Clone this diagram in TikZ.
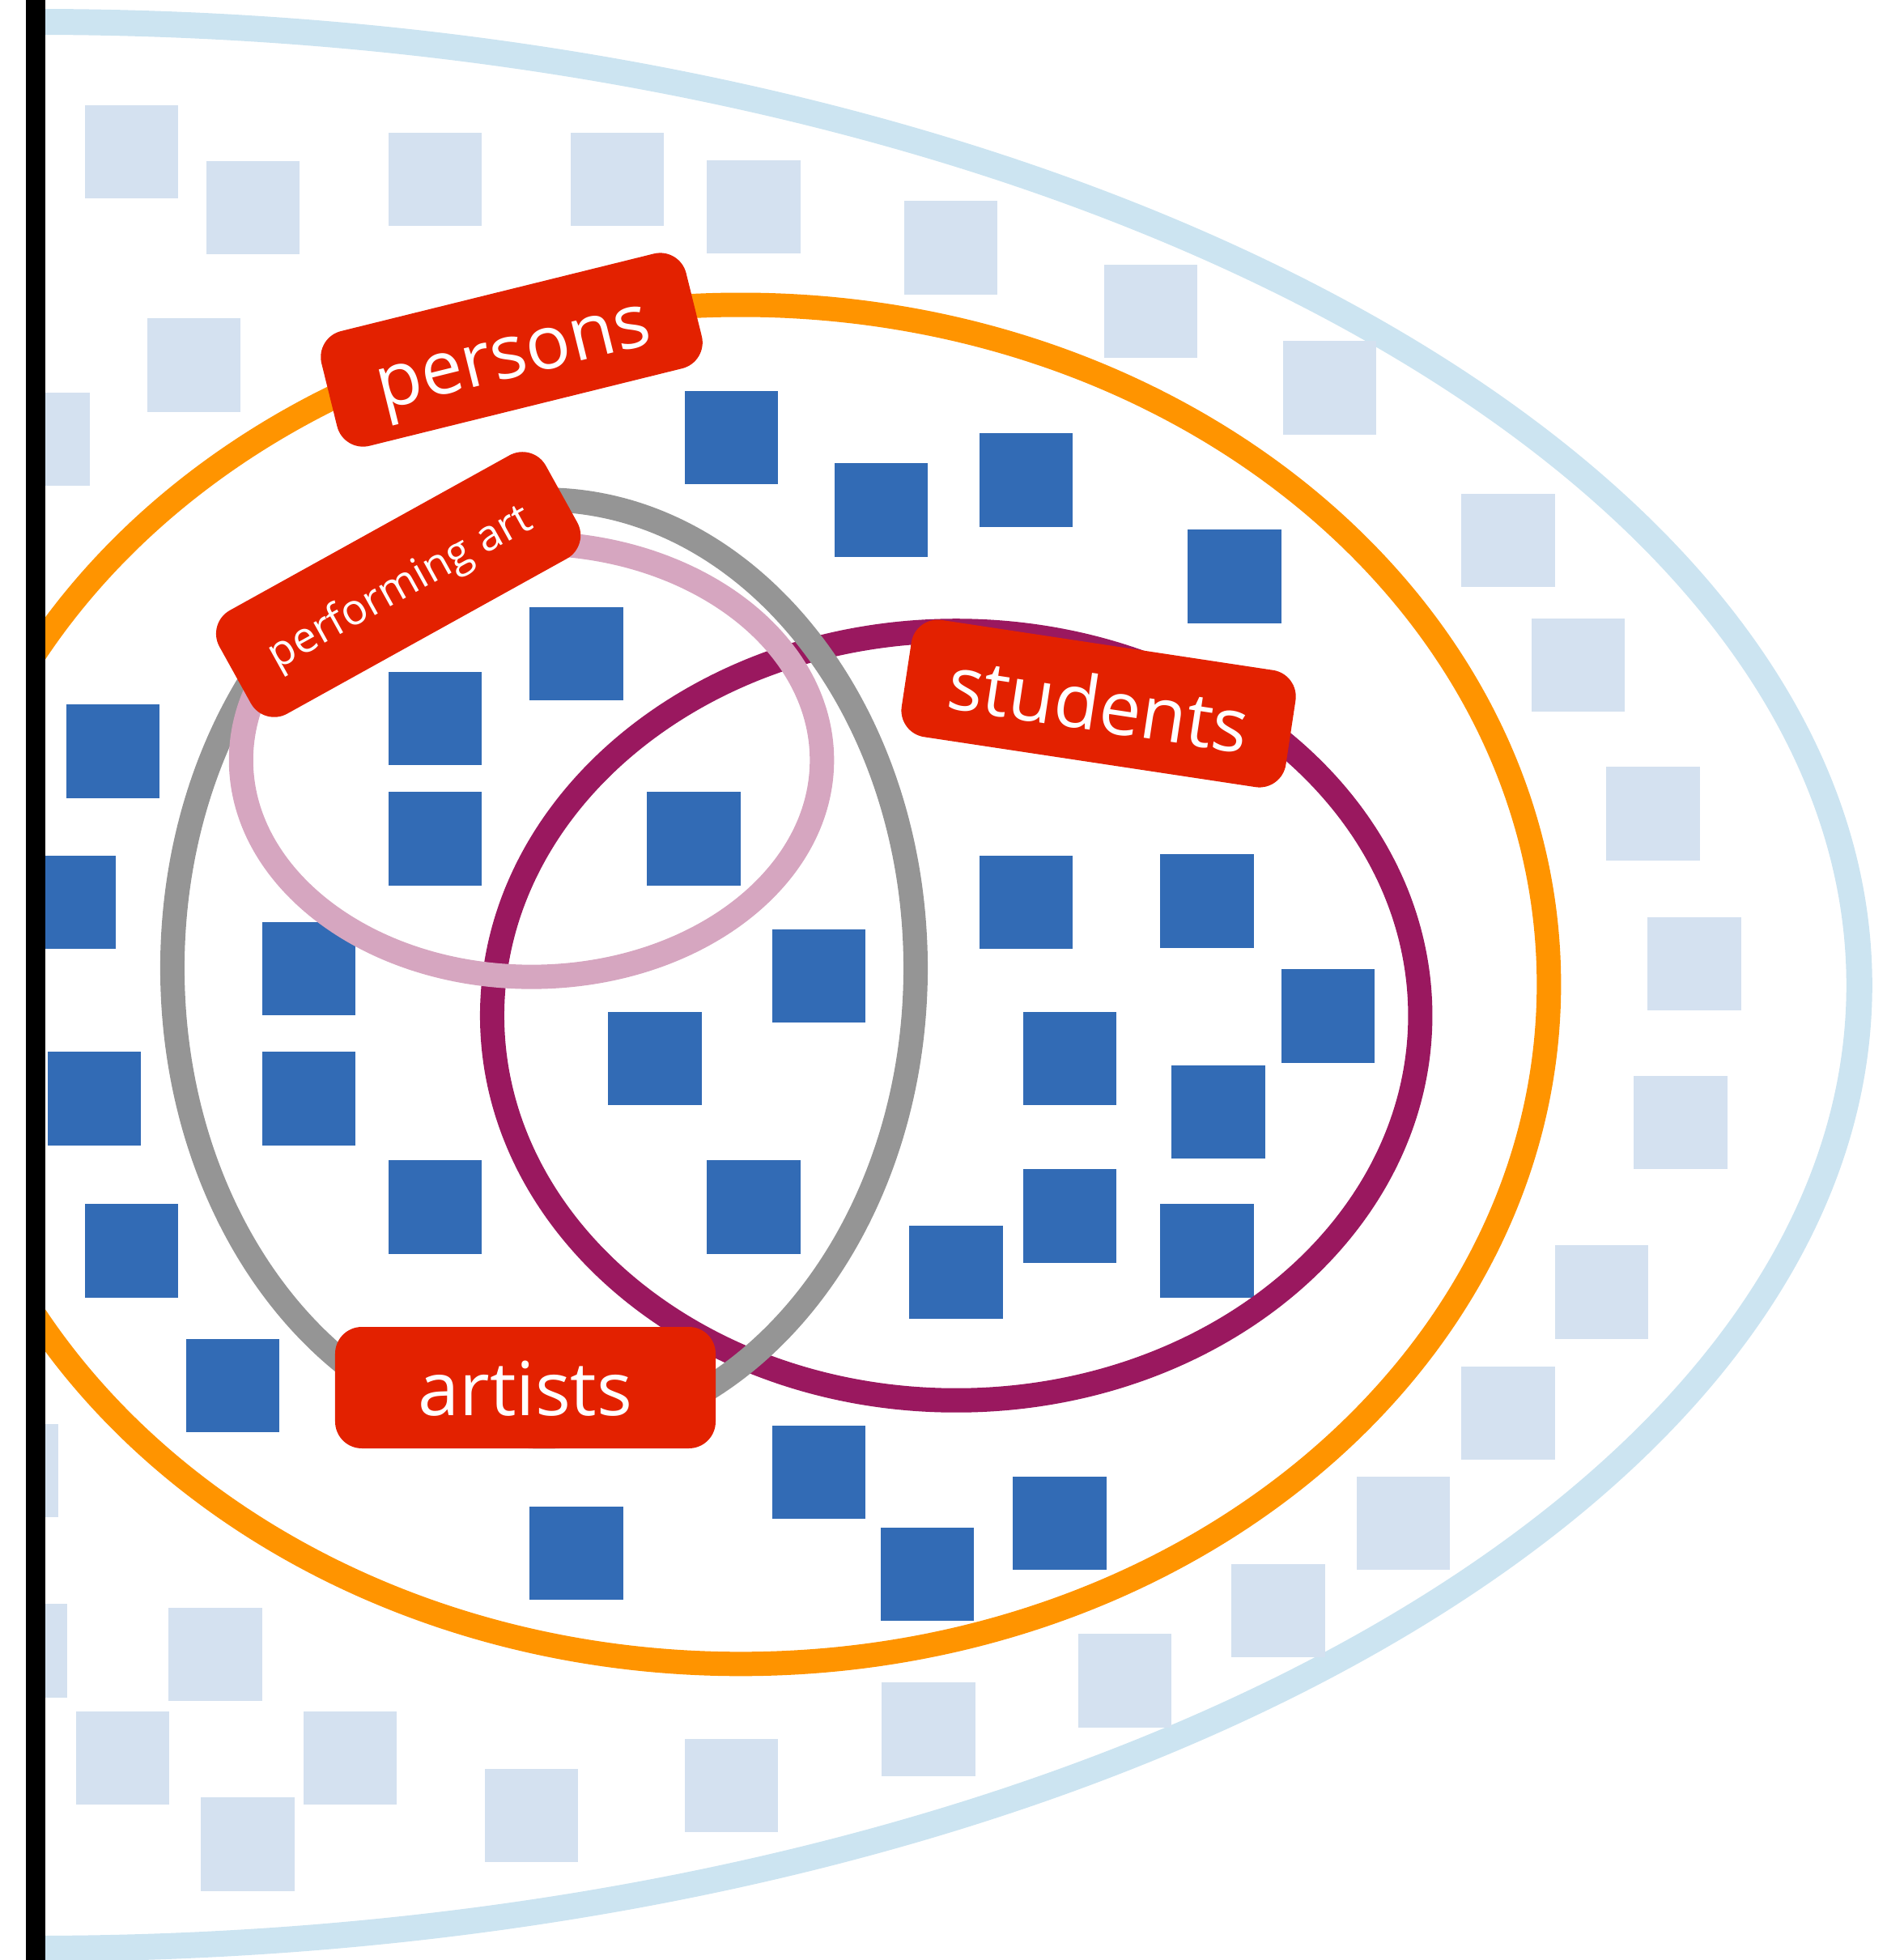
\documentclass[tikz,border=0pt]{standalone}
\usepackage{fontspec}
\setmainfont{Open Sans}
\definecolor{lblue}{HTML}{CCE4F1}
\definecolor{lsq}{HTML}{D4E1F0}
\definecolor{dsq}{HTML}{326BB5}
\definecolor{orng}{HTML}{FF9400}
\definecolor{grayring}{HTML}{959595}
\definecolor{pinkring}{HTML}{D6A6C0}
\definecolor{purpring}{HTML}{9A185F}
\definecolor{lblred}{HTML}{E32100}
\begin{document}
\begin{tikzpicture}[x=1.543pt,y=-1.543pt,
  ring/.style={line width=30pt},
  lbl/.style={fill=lblred,text=white,rounded corners=33pt,inner sep=0pt,
    minimum height=146pt,text height=68pt,text depth=0pt,
    font=\fontsize{92}{100}\selectfont}]
\useasboundingbox (0,0) rectangle (1523.66,1569);
\begin{scope}
\clip (28.5,0) rectangle (1523.66,1569);
\draw[ring,lblue,line width=32pt] (28.5,788.7) ellipse [x radius=1460,y radius=771.2];
\foreach \x/\y in {68/84,165/129,311/106,457/106,566/128,724/161,884/212,1027/273,
  118/255,-3/314,1170/395,1226/495,1286/614,1319/734,1308/861,1245/997,1170/1094,
  1086/1182,986/1252,863/1308,706/1347,548/1392,388/1416,243/1370,161/1439,61/1370,
  135/1287,-21/1284,-28/1140}
  \fill[lsq] (\x,\y) rectangle ++(74.7,74.7);
\draw[ring,orng] (593,788) ellipse [x radius=647,y radius=544];
\foreach \x/\y in {548/313,668/371,784/347,951/424,424/486,311/538,53/564,311/634,
  518/634,18/685,210/738,618/744,784/685,929/684,1026/776,38/842,210/842,487/810,
  819/810,938/853,311/929,566/929,68/964,819/936,929/964,728/981,149/1072,618/1141,
  811/1182,705/1223,424/1206}
  \fill[dsq] (\x,\y) rectangle ++(74.7,74.7);
\draw[ring,purpring] (765.5,813) ellipse [x radius=371.5,y radius=308];
\draw[ring,grayring] (435.5,775) ellipse [x radius=297.5,y radius=375];
\draw[ring,pinkring] (425.5,608.5) ellipse [x radius=232.5,y radius=173.5];
\end{scope}
\draw[line width=24pt] (28.5,0) -- (28.5,1569);
\node[lbl,minimum width=464pt,rotate=13.9] (persons) at (409.6,280) {persons};
\node[lbl,minimum width=461pt,rotate=29,text height=39pt,font=\fontsize{53}{60}\selectfont] (perfart) at (318.9,467.9) {performing art};
\node[lbl,minimum width=480pt,rotate=-8.6] (students) at (879.5,563.2) {students};
\node[lbl,minimum width=470pt,minimum height=150pt] (artists) at (420.6,1110.8) {artists};
\end{tikzpicture}
\end{document}
